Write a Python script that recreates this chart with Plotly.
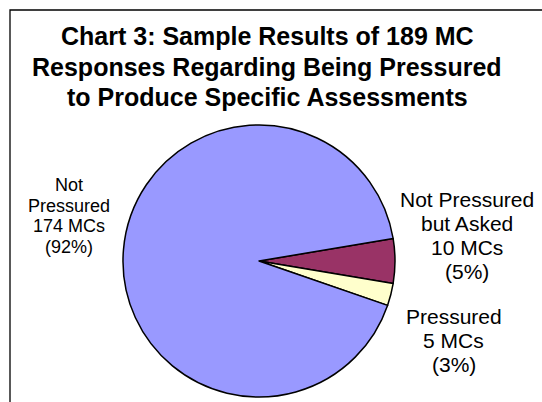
import plotly.graph_objects as go

W, H = 542, 402

# Data
categories = ["Not Pressured but Asked", "Pressured", "Not Pressured"]
counts = [10, 5, 174]
colors = ["#993366", "#FFFFCC", "#9999FF"]
title_lines = [
    "Chart 3: Sample Results of 189 MC",
    "Responses Regarding Being Pressured",
    "to Produce Specific Assessments",
]
total = sum(counts)

def px(x):
    return x / W

def py(y):
    return 1 - y / H

# pie geometry (pixels)
cx, cy, r = 259, 261, 136

# first slice (maroon) centred on 3 o'clock
start_angle = 90 - 360 * counts[0] / total / 2

fig = go.Figure(go.Pie(
    labels=categories,
    values=counts,
    sort=False,
    direction="clockwise",
    rotation=start_angle,
    marker=dict(colors=colors, line=dict(color="black", width=1.5)),
    textinfo="none",
    hoverinfo="label+value+percent",
    showlegend=False,
    domain=dict(x=[px(cx - r), px(cx + r)], y=[py(cy + r), py(cy - r)]),
))

annotations = []
FONT = "Arial, Liberation Sans, sans-serif"

# Title lines
for i, line in enumerate(title_lines):
    annotations.append(dict(
        text="<b>" + line + "</b>", x=px(267), y=py(36 + i * 30.5),
        xref="paper", yref="paper", xanchor="center", yanchor="middle",
        showarrow=False, font=dict(family=FONT, size=25, color="black")))

def pct(v):
    return f"({round(100 * v / total)}%)"

label_specs = [
    (["Not", "Pressured", f"{counts[2]} MCs", pct(counts[2])], 69, 185, 20.5, 18),
    (["Not Pressured", "but Asked", f"{counts[0]} MCs", pct(counts[0])], 467, 199, 24, 21),
    (["Pressured", f"{counts[1]} MCs", pct(counts[1])], 453.5, 316, 24, 21),
]
for lines, x0, y0, step, size in label_specs:
    for j, t in enumerate(lines):
        annotations.append(dict(
            text=t, x=px(x0), y=py(y0 + j * step),
            xref="paper", yref="paper", xanchor="center", yanchor="middle",
            showarrow=False, font=dict(family=FONT, size=size, color="black")))

fig.update_layout(
    width=W, height=H,
    margin=dict(l=0, r=0, t=0, b=0),
    paper_bgcolor="white", plot_bgcolor="white",
    annotations=annotations,
    shapes=[dict(type="rect", xref="paper", yref="paper",
                 x0=px(10), y0=py(430), x1=px(580), y1=py(10),
                 line=dict(color="black", width=1.3), fillcolor="rgba(0,0,0,0)")],
)

fig.write_html("out.html")
